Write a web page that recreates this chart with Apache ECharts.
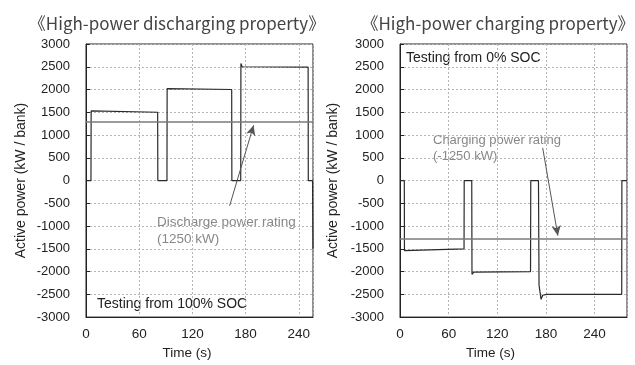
<!DOCTYPE html>
<html>
<head>
<meta charset="utf-8">
<script src="https://cdn.jsdelivr.net/npm/echarts@6/dist/echarts.min.js"></script>
<style>
  * { margin: 0; padding: 0; }
  body { background: #fff; }
</style>
</head>
<body>
<div id="main" style="width: 635px;height: 365px;"></div>
<script>
// discharge test (time s, power kW)
var dischargeTime = [0, 5.6, 5.8, 8, 80.8, 81, 91.3, 91.5, 93, 164.3, 164.5, 174.5, 174.7, 176, 250.5, 250.7, 255.5, 256];
var dischargePower = [0, 0, 1530, 1505, 1500, 0, 0, 2020, 2000, 2000, 0, 0, 2570, 2500, 2490, 0, 0, -1500];
// charge test
var chargeTime = [0, 5.3, 5.5, 7, 79, 79.2, 88.5, 88.8, 91, 161, 161.3, 170.8, 171.5, 174, 176, 181, 273.5, 273.7, 280];
var chargePower = [0, 0, -1540, -1510, -1500, 0, 0, -2060, -2010, -2000, 0, 0, -2300, -2610, -2520, -2500, -2500, 0, 0];

var dischargeRating = 1290;
var chargeRating = -1270;
// arrow start / end [time, power]
var dischargeArrow = [[162, -553], [189, 1214]];
var chargeArrow = [[176, 718], [194.7, -1210]];

var yTicks = [-3000, 3000, 500];
var xTicks = [0, 60];

function pairs(t, p) {
  var out = [];
  for (var i = 0; i < t.length; i++) out.push([t[i], p[i]]);
  return out;
}

var font = 'Liberation Sans';
var gridLine = { show: true, lineStyle: { color: '#b4b4b4', type: [2, 2], width: 1 } };
var chart = echarts.init(document.getElementById('main'));

function xAxis(idx, max, pad) {
  return {
    type: 'value', gridIndex: idx, min: xTicks[0], max: max, interval: xTicks[1],
    name: 'Time (s)', nameLocation: 'middle', nameGap: 26,
    nameTextStyle: { fontFamily: font, fontSize: 13.5, color: '#222', padding: [0, pad, 0, 0] },
    axisLine: { show: true, onZero: false, lineStyle: { color: '#222', width: 1 } },
    axisTick: { show: false },
    axisLabel: {
      fontFamily: font, fontSize: 13.5, color: '#222', margin: 10,
      showMaxLabel: false,
      formatter: function (v) { return v % 60 === 0 ? String(v) : ''; }
    },
    splitLine: gridLine
  };
}
function yAxis(idx, gap) {
  return {
    type: 'value', gridIndex: idx, min: yTicks[0], max: yTicks[1], interval: yTicks[2],
    name: 'Active power (kW / bank)', nameLocation: 'middle', nameGap: gap,
    nameTextStyle: { fontFamily: font, fontSize: 14, color: '#222' },
    axisLine: { show: true, lineStyle: { color: '#222', width: 1 } },
    axisTick: { show: true, inside: true, length: 4, lineStyle: { color: '#222' } },
    axisLabel: { fontFamily: font, fontSize: 13, color: '#222', margin: 16,
      formatter: function (v) { return String(v); } },
    splitLine: gridLine
  };
}
function series(idx, data, rating, arrow) {
  return {
    type: 'line', xAxisIndex: idx, yAxisIndex: idx, data: data,
    showSymbol: false, symbol: 'none', animation: false,
    lineStyle: { color: '#2a2a2a', width: 1.2 },
    markLine: {
      silent: true, animation: false, symbol: 'none',
      label: { show: false },
      data: [
        { yAxis: rating, lineStyle: { color: '#7a7a7a', width: 1.5, type: 'solid' } },
        [
          { coord: arrow[0], symbol: 'none', lineStyle: { color: '#555', width: 1, type: 'solid' } },
          { coord: arrow[1], symbol: 'arrow', symbolSize: [7, 10] }
        ]
      ]
    }
  };
}

var titleStyle = { fontFamily: 'Noto Sans CJK JP', fontSize: 17, fontWeight: 'normal', color: '#444' };

chart.setOption({
  backgroundColor: '#fff',
  animation: false,
  title: [
    { text: '《High-power discharging property》', left: 172, top: 10, textAlign: 'center', textStyle: titleStyle },
    { text: '《High-power charging property》', left: 493, top: 10, textAlign: 'center', textStyle: titleStyle }
  ],
  grid: [
    { left: 86, top: 44, width: 227, height: 283, show: true, borderColor: '#222', borderWidth: 1 },
    { left: 400, top: 44, width: 227, height: 283, show: true, borderColor: '#222', borderWidth: 1 }
  ],
  xAxis: [xAxis(0, 256, 25), xAxis(1, 280, 46)],
  yAxis: [yAxis(0, 58), yAxis(1, 60)],
  series: [
    series(0, pairs(dischargeTime, dischargePower), dischargeRating, dischargeArrow),
    series(1, pairs(chargeTime, chargePower), chargeRating, chargeArrow)
  ],
  graphic: [
    { type: 'text', left: 157, top: 214, style: { text: 'Discharge power rating\n(1250 kW)', font: '13.5px "Liberation Sans"', fill: '#888', lineHeight: 17 } },
    { type: 'text', left: 97, top: 297, style: { text: 'Testing from 100% SOC', font: '14px "Liberation Sans"', fill: '#222' } },
    { type: 'text', left: 433, top: 132, style: { text: 'Charging power rating\n(-1250 kW)', font: '13px "Liberation Sans"', fill: '#888', lineHeight: 16 } },
    { type: 'text', left: 406, top: 51, style: { text: 'Testing from 0% SOC', font: '14px "Liberation Sans"', fill: '#222' } }
  ]
});
</script>
</body>
</html>
